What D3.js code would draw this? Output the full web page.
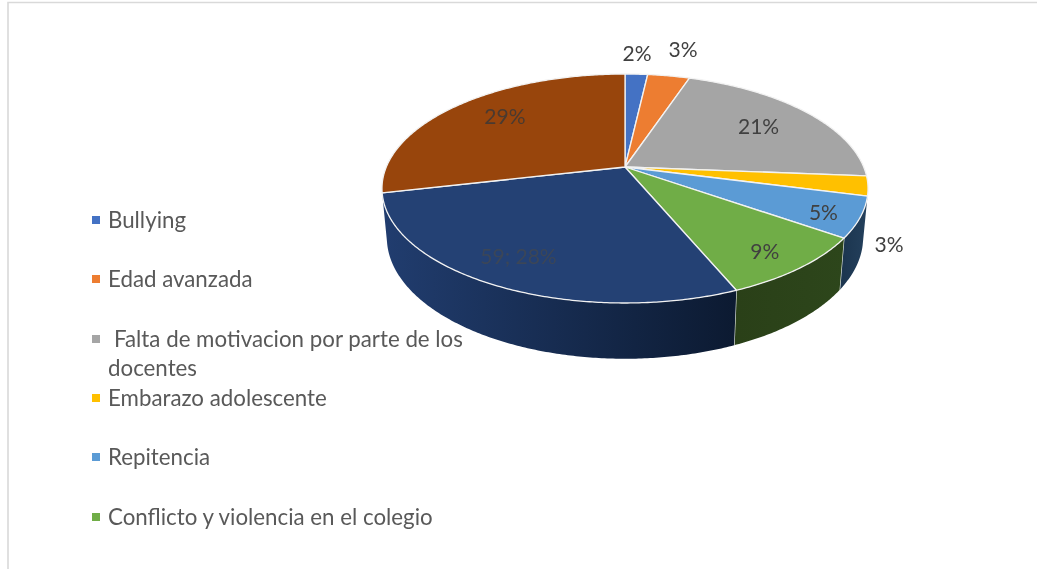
<!DOCTYPE html>
<html><head><meta charset="utf-8">
<script src="https://cdn.jsdelivr.net/npm/d3@7"></script>
<style>html,body{margin:0;padding:0;background:#fff;overflow:hidden}svg{display:block}text{font-family:Lato,"Open Sans",sans-serif;filter:blur(.3px)}</style>
</head><body><svg id="c" width="1037" height="569"></svg>
<script>
// Data
const sliceShares = [1.8, 3.35, 21.1, 2.8, 5.7, 8.95, 27.7, 28.6];
const sliceLabels = ["2%", "3%", "21%", "3%", "5%", "9%", "59; 28%", "29%"];
const sliceColors = ["#4472c4", "#ed7d31", "#a5a5a5", "#ffc000", "#5b9bd5", "#70ad47", "#244174", "#98450c"];
const sideStart   = ["#000", "#000", "#000", "#000", "#24405c", "#2d461b", "#213d6f", "#000"];
const sideEnd     = ["#000", "#000", "#000", "#000", "#1c3650", "#2a4018", "#0c1a31", "#000"];
const legendNames = [["Bullying"], ["Edad avanzada"], [" Falta de motivacion por parte de los", "docentes"], ["Embarazo adolescente"], ["Repitencia"], ["Conflicto y violencia en el colegio"]];
const legendColors = ["#4472c4", "#ed7d31", "#a5a5a5", "#ffc000", "#5b9bd5", "#70ad47"];
// Layout
const labelRadius = [1.27, 1.36, 0.72, 1.156, 0.86, 0.845, 0.80, 0.74];
const labelShiftDeg = [-0.4, 0.4, 0.1, 22.7, 1.3, 1.5, 1.8, 3.5];
const labelColors = ["#404040", "#404040", "#404040", "#404040", "#404040", "#404040", "#3b4658", "#4a3a30"];
const legendY = [220, 279, 339, 398, 457, 517];

const svg = d3.select("#c");
const cx = 625, cy = 167, R = 238.7, A = 110.46, K = 0.1878, depth = 47.6, shrinkX = 0.98, stretchY = 1.06;
const project = (ang, r = 1, lower = false) => {
  const x = r * Math.sin(ang), y = -r * Math.cos(ang), w = 1 - K * y;
  return [cx + (lower ? shrinkX : 1) * R * x / w, cy + (lower ? stretchY : 1) * A * y / w + (lower ? depth : 0)];
};
const arcs = d3.pie().sort(null).value(d => d)(sliceShares);
const line = d3.line();
const rim = (a0, a1, lower) => {
  const n = Math.max(2, Math.ceil((a1 - a0) / 0.01));
  return d3.range(n + 1).map(i => project(a0 + (a1 - a0) * i / n, 1, lower));
};

// frame
svg.append("path").attr("d", "M8,569V2.5H1037").attr("fill", "none").attr("stroke", "#d9d9d9").attr("stroke-width", 1.6);

const defs = svg.append("defs");
arcs.forEach((d, i) => {
  const pts = rim(d.startAngle, d.endAngle, false);
  const g = defs.append("linearGradient").attr("id", "side" + i).attr("gradientUnits", "userSpaceOnUse")
    .attr("x1", d3.min(pts, p => p[0])).attr("x2", d3.max(pts, p => p[0])).attr("y1", 0).attr("y2", 0);
  const leftFirst = i === 6;
  g.append("stop").attr("offset", 0).attr("stop-color", leftFirst ? sideStart[i] : sideEnd[i]);
  g.append("stop").attr("offset", 1).attr("stop-color", leftFirst ? sideEnd[i] : sideStart[i]);
});

// side walls of the front slices
arcs.forEach((d, i) => {
  if (sideStart[i] === "#000") return;
  const top = rim(d.startAngle, d.endAngle, false);
  const bot = rim(d.startAngle, d.endAngle, true).reverse();
  svg.append("path").attr("d", line(top.concat(bot)) + "Z").attr("fill", `url(#side${i})`);
  if (i >= 4 && i <= 5) {
    const a = project(d.endAngle), b = project(d.endAngle, 1, true);
    svg.append("path").attr("d", line([a, b])).attr("stroke", "#e8ece6").attr("stroke-width", 1.2).attr("fill", "none");
  }
});

// top faces
arcs.forEach((d, i) => {
  svg.append("path")
    .attr("d", line([project(0, 0)].concat(rim(d.startAngle, d.endAngle, false))) + "Z")
    .attr("fill", sliceColors[i]).attr("stroke", "#f2f2f2").attr("stroke-width", 1.3).attr("stroke-linejoin", "round");
});

// data labels
arcs.forEach((d, i) => {
  const ang = (d.startAngle + d.endAngle) / 2 + labelShiftDeg[i] * Math.PI / 180;
  const p = project(ang, labelRadius[i]);
  svg.append("text").attr("x", p[0]).attr("y", p[1] + 7.5).attr("text-anchor", "middle")
    .attr("font-size", 21).attr("fill", labelColors[i]).text(sliceLabels[i]);
});

// legend
legendNames.forEach((lines, i) => {
  svg.append("rect").attr("x", 92).attr("y", legendY[i] - 4).attr("width", 8).attr("height", 8).attr("fill", legendColors[i]);
  lines.forEach((t, j) => {
    svg.append("text").attr("x", t.startsWith(" ") ? 114 : 108).attr("y", legendY[i] + 8 + j * 28.5)
      .attr("font-size", 22.3).attr("fill", "#595959").text(t.trim());
  });
});
</script></body></html>
